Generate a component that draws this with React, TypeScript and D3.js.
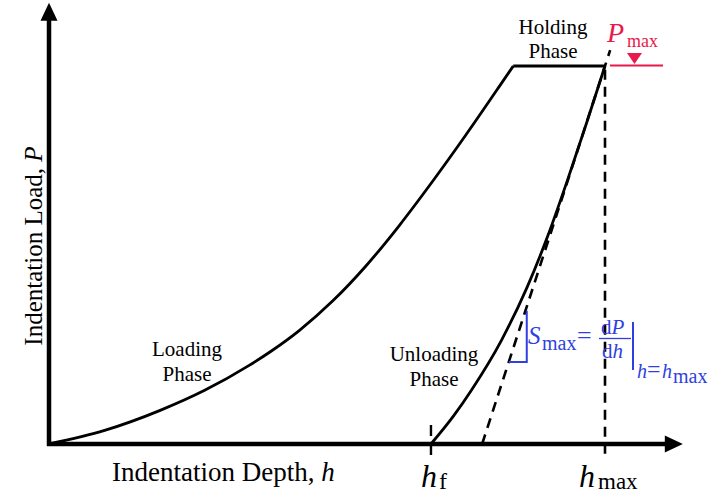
import React from "react";
import * as d3 from "d3";

const W = 709;
const H = 496;

// Depth h and load P as percentages of h_max and P_max
const loadingDepth = [0, 10, 20, 28, 36, 40, 45, 51, 57, 63, 69, 75, 81, 83.5];
const loadingLoad = [0, 3.6, 8.9, 14.2, 20.8, 24.6, 30.0, 37.8, 47.1, 57.8, 69.5, 81.8, 94.6, 100];
const holdingDepth = [83.5, 100];
const holdingLoad = [100, 100];
const unloadingDepth = [68.7, 72.8, 76.0, 81.4, 86.0, 89.7, 93.3, 96.7, 100];
const unloadingLoad = [0, 7.5, 14.3, 27.5, 41.5, 55, 70, 85, 100];

const hMax = 100;
const pMax = 100;
const hF = 68.7;
const tangentFoot = 77.9; // depth where the unloading slope at h_max meets P = 0
const depthAxisEnd = 114;
const loadAxisEnd = 116.7;
const slopeLoads = [21.7, 34.7]; // load span of the stiffness triangle

const FONT = "'Liberation Serif', 'Times New Roman', serif";
const BLUE = "#2f3fe0";
const RED = "#e8194b";

const x = d3.scaleLinear().domain([0, hMax]).range([49, 605]);
const y = d3.scaleLinear().domain([0, pMax]).range([444, 66]);

type Pt = [number, number];
const zip = (a: number[], b: number[]): Pt[] => a.map((v, i) => [v, b[i]]);

const curve = d3
  .line<Pt>()
  .x((d) => x(d[0]))
  .y((d) => y(d[1]))
  .curve(d3.curveMonotoneX);
const straight = d3
  .line<Pt>()
  .x((d) => x(d[0]))
  .y((d) => y(d[1]));

export default function App() {
  const slope = pMax / (hMax - tangentFoot);
  const tangentAt = (p: number) => tangentFoot + p / slope;
  const tangentTop = 104.2;

  const x0 = x(0);
  const y0 = y(0);
  const xEnd = x(depthAxisEnd);
  const yEnd = y(loadAxisEnd);

  const triLow = tangentAt(slopeLoads[0]);
  const triHighX = x(tangentAt(slopeLoads[1])) + 2;

  return (
    <svg width={W} height={H} style={{ position: "absolute", left: 0, top: 0, background: "#fff" }} fontFamily={FONT}>
      <rect width={W} height={H} fill="#fff" />

      {/* reference dashed lines */}
      <path
        d={straight([[hMax, 99], [hMax, -3]])!}
        stroke="#000"
        strokeWidth={2.6}
        strokeDasharray="10,7"
        fill="none"
      />
      <path
        d={straight([[hF, 5], [hF, -3]])!}
        stroke="#000"
        strokeWidth={2.4}
        strokeDasharray="11,8"
        fill="none"
      />
      <path
        d={straight([[tangentFoot, 0], [tangentAt(tangentTop), tangentTop]])!}
        stroke="#000"
        strokeWidth={2.6}
        strokeDasharray="10,7"
        fill="none"
      />

      {/* axes with arrowheads */}
      <line x1={x0} y1={y0 + 2} x2={x0} y2={yEnd + 14} stroke="#000" strokeWidth={4.5} />
      <path d={`M${x0},${yEnd} L${x0 - 8.5},${yEnd + 18} L${x0 + 8.5},${yEnd + 18} Z`} fill="#000" />
      <line x1={x0 - 2} y1={y0} x2={xEnd - 14} y2={y0} stroke="#000" strokeWidth={4.5} />
      <path d={`M${xEnd},${y0} L${xEnd - 18},${y0 - 8.5} L${xEnd - 18},${y0 + 8.5} Z`} fill="#000" />

      {/* load–depth curve */}
      <path d={curve(zip(loadingDepth, loadingLoad))!} stroke="#000" strokeWidth={2.8} fill="none" />
      <path d={straight(zip(holdingDepth, holdingLoad))!} stroke="#000" strokeWidth={2.8} fill="none" />
      <path d={curve(zip(unloadingDepth, unloadingLoad))!} stroke="#000" strokeWidth={2.8} fill="none" />

      {/* P_max marker */}
      <line x1={x(hMax) + 5} y1={y(pMax) - 0.5} x2={663} y2={y(pMax) - 0.5} stroke={RED} strokeWidth={2} />
      <path d={`M627,${y(pMax) - 13} L642,${y(pMax) - 13} L634.5,${y(pMax) - 2} Z`} fill={RED} />
      <text x={607} y={42} fontSize={28} fontStyle="italic" fill={RED}>P</text>
      <text x={627} y={47} fontSize={18} fill={RED}>max</text>

      {/* stiffness triangle and formula */}
      <path
        d={`M${x(triLow)},${y(slopeLoads[0])} H${triHighX} V${y(slopeLoads[1]) - 2}`}
        stroke={BLUE}
        strokeWidth={2}
        fill="none"
      />
      <g fill={BLUE}>
        <text x={528} y={344} fontSize={25} fontStyle="italic">S</text>
        <text x={542} y={350} fontSize={20}>max</text>
        <text x={577} y={344} fontSize={26}>=</text>
        <text x={601} y={334} fontSize={21}>d<tspan fontStyle="italic">P</tspan></text>
        <line x1={599} x2={631} y1={338.5} y2={338.5} stroke={BLUE} strokeWidth={1.3} />
        <text x={602} y={358} fontSize={21}>d<tspan fontStyle="italic">h</tspan></text>
        <line x1={633} x2={633} y1={322} y2={370} stroke={BLUE} strokeWidth={2} />
        <text x={637} y={378} fontSize={20} fontStyle="italic">h</text>
        <text x={647} y={377} fontSize={24}>=</text>
        <text x={662} y={378} fontSize={20} fontStyle="italic">h</text>
        <text x={673} y={383} fontSize={20}>max</text>
      </g>

      {/* phase labels */}
      <g fontSize={21} textAnchor="middle" fill="#000">
        <text x={553} y={34}>Holding</text>
        <text x={553} y={58}>Phase</text>
        <text x={187} y={356}>Loading</text>
        <text x={187} y={381}>Phase</text>
        <text x={434} y={361}>Unloading</text>
        <text x={434} y={386}>Phase</text>
      </g>

      {/* depth markers */}
      <text x={421} y={487} fontSize={32} fontStyle="italic">h</text>
      <text x={439} y={489} fontSize={24}>f</text>
      <text x={579} y={487} fontSize={32} fontStyle="italic">h</text>
      <text x={598} y={489} fontSize={23}>max</text>

      {/* axis titles */}
      <text x={112} y={481} fontSize={27}>
        Indentation Depth, <tspan fontStyle="italic">h</tspan>
      </text>
      <text transform="translate(42,246) rotate(-90)" textAnchor="middle" fontSize={25}>
        Indentation Load, <tspan fontStyle="italic">P</tspan>
      </text>
    </svg>
  );
}
